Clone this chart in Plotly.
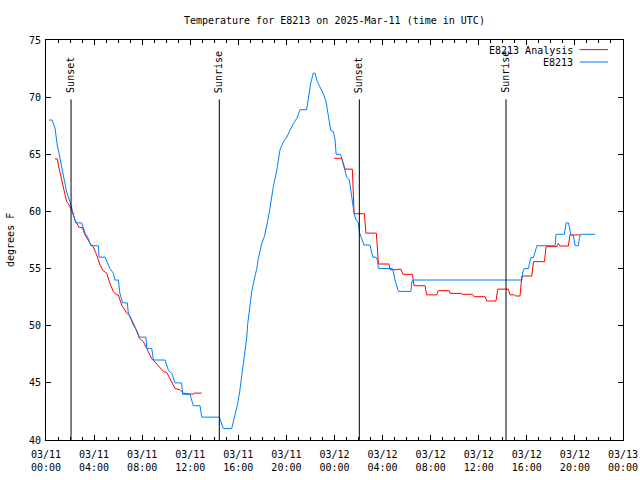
import plotly.graph_objects as go

# ---------------- data ----------------
obs_time = [
    "2025-03-11 00:15", "2025-03-11 00:30", "2025-03-11 00:45", "2025-03-11 00:56", "2025-03-11 01:05",
    "2025-03-11 01:15", "2025-03-11 01:26", "2025-03-11 01:43", "2025-03-11 02:00", "2025-03-11 02:11",
    "2025-03-11 02:25", "2025-03-11 02:28", "2025-03-11 02:58", "2025-03-11 03:06", "2025-03-11 03:15",
    "2025-03-11 03:31", "2025-03-11 03:43", "2025-03-11 04:21", "2025-03-11 04:25", "2025-03-11 04:55",
    "2025-03-11 05:03", "2025-03-11 05:19", "2025-03-11 05:36", "2025-03-11 05:44", "2025-03-11 06:01",
    "2025-03-11 06:09", "2025-03-11 06:23", "2025-03-11 06:46", "2025-03-11 06:51", "2025-03-11 07:16",
    "2025-03-11 07:33", "2025-03-11 07:46", "2025-03-11 08:19", "2025-03-11 08:23", "2025-03-11 08:48",
    "2025-03-11 08:56", "2025-03-11 09:54", "2025-03-11 10:11", "2025-03-11 10:28", "2025-03-11 10:44",
    "2025-03-11 11:17", "2025-03-11 11:22", "2025-03-11 11:59", "2025-03-11 12:15", "2025-03-11 12:49",
    "2025-03-11 12:57", "2025-03-11 14:25", "2025-03-11 14:45", "2025-03-11 15:27", "2025-03-11 15:35",
    "2025-03-11 15:47", "2025-03-11 15:57", "2025-03-11 16:08", "2025-03-11 16:17", "2025-03-11 16:25",
    "2025-03-11 16:33", "2025-03-11 16:42", "2025-03-11 16:47", "2025-03-11 16:53", "2025-03-11 16:58",
    "2025-03-11 17:07", "2025-03-11 17:15", "2025-03-11 17:23", "2025-03-11 17:32", "2025-03-11 17:40",
    "2025-03-11 17:48", "2025-03-11 17:57", "2025-03-11 18:10", "2025-03-11 18:18", "2025-03-11 18:28",
    "2025-03-11 18:38", "2025-03-11 18:55", "2025-03-11 19:12", "2025-03-11 19:28", "2025-03-11 19:45",
    "2025-03-11 20:02", "2025-03-11 20:18", "2025-03-11 20:35", "2025-03-11 20:52", "2025-03-11 21:08",
    "2025-03-11 21:41", "2025-03-11 21:49", "2025-03-11 22:01", "2025-03-11 22:14", "2025-03-11 22:23",
    "2025-03-11 22:34", "2025-03-11 22:48", "2025-03-11 23:04", "2025-03-11 23:18", "2025-03-11 23:29",
    "2025-03-11 23:41", "2025-03-11 23:54", "2025-03-12 00:03", "2025-03-12 00:08", "2025-03-12 00:31",
    "2025-03-12 00:36", "2025-03-12 00:44", "2025-03-12 00:53", "2025-03-12 01:01", "2025-03-12 01:14",
    "2025-03-12 01:21", "2025-03-12 01:29", "2025-03-12 01:38", "2025-03-12 01:48", "2025-03-12 01:59",
    "2025-03-12 02:04", "2025-03-12 02:11", "2025-03-12 02:27", "2025-03-12 02:57", "2025-03-12 03:06",
    "2025-03-12 03:11", "2025-03-12 03:27", "2025-03-12 03:34", "2025-03-12 03:39", "2025-03-12 04:49",
    "2025-03-12 04:54", "2025-03-12 05:02", "2025-03-12 05:19", "2025-03-12 06:21", "2025-03-12 06:26",
    "2025-03-12 06:31", "2025-03-12 15:35", "2025-03-12 15:40", "2025-03-12 15:46", "2025-03-12 16:08",
    "2025-03-12 16:13", "2025-03-12 16:20", "2025-03-12 16:33", "2025-03-12 16:41", "2025-03-12 16:50",
    "2025-03-12 18:21", "2025-03-12 18:26", "2025-03-12 19:07", "2025-03-12 19:11", "2025-03-12 19:16",
    "2025-03-12 19:27", "2025-03-12 19:32", "2025-03-12 19:39", "2025-03-12 19:52", "2025-03-12 20:01",
    "2025-03-12 20:17", "2025-03-12 20:22", "2025-03-12 20:29", "2025-03-12 21:41",
]
obs_temp = [
    68.0, 68.0, 67.3, 65.8, 65.1,
    64.2, 63.0, 61.7, 60.85, 60.1,
    59.4, 59.0, 59.0, 58.5, 58.1,
    57.65, 57.0, 57.0, 56.0, 56.0,
    55.6, 55.0, 54.6, 54.0, 54.0,
    52.8, 52.0, 52.0, 51.1, 50.06,
    49.6, 49.0, 49.0, 48.0, 48.0,
    47.0, 47.0, 46.1, 45.8, 45.0,
    45.0, 44.0, 44.0, 43.0, 43.0,
    42.0, 42.0, 41.0, 41.0, 41.6,
    42.3, 43.2, 44.4, 45.5, 46.6,
    47.9, 49.0, 50.2, 51.1, 51.8,
    53.0, 53.7, 54.3, 55.0, 55.9,
    56.6, 57.2, 57.8, 58.4, 59.3,
    60.3, 62.2, 63.6, 65.4, 66.1,
    66.5, 67.1, 67.7, 68.15, 68.9,
    68.9, 70.0, 71.2, 72.1, 72.1,
    71.35, 70.9, 70.3, 69.6, 68.4,
    67.1, 67.0, 66.25, 65.0, 65.0,
    64.65, 64.06, 63.6, 63.0, 62.75,
    61.9, 60.85, 59.8, 59.25, 59.0,
    58.2, 57.9, 57.06, 57.06, 56.5,
    56.0, 56.0, 55.75, 55.0, 55.0,
    54.7, 54.0, 53.0, 53.0, 53.85,
    54.0, 54.0, 54.7, 55.0, 55.0,
    55.46, 55.95, 55.95, 56.5, 57.0,
    57.0, 58.0, 58.0, 58.4, 59.0,
    59.0, 58.7, 57.94, 57.9, 57.0,
    57.0, 57.65, 58.0, 58.0,
]

ana_time = [
    "2025-03-11 00:45", "2025-03-11 00:56", "2025-03-11 01:05", "2025-03-11 01:18", "2025-03-11 01:30",
    "2025-03-11 01:43", "2025-03-11 01:51", "2025-03-11 02:08", "2025-03-11 02:25", "2025-03-11 02:41",
    "2025-03-11 02:45", "2025-03-11 03:01", "2025-03-11 03:15", "2025-03-11 03:40", "2025-03-11 03:56",
    "2025-03-11 04:13", "2025-03-11 04:30", "2025-03-11 04:46", "2025-03-11 05:03", "2025-03-11 05:19",
    "2025-03-11 05:36", "2025-03-11 05:53", "2025-03-11 06:01", "2025-03-11 06:18", "2025-03-11 06:43",
    "2025-03-11 06:59", "2025-03-11 07:24", "2025-03-11 07:46", "2025-03-11 08:06", "2025-03-11 08:26",
    "2025-03-11 08:48", "2025-03-11 09:13", "2025-03-11 09:46", "2025-03-11 10:03", "2025-03-11 10:28",
    "2025-03-11 10:44", "2025-03-11 11:09", "2025-03-11 11:25", "2025-03-11 12:15", "2025-03-11 12:19",
    "2025-03-11 12:57", "2025-03-11 18:00",
    "2025-03-11 23:58", "2025-03-12 00:36", "2025-03-12 00:44", "2025-03-12 00:53", "2025-03-12 01:29",
    "2025-03-12 01:38", "2025-03-12 02:29", "2025-03-12 02:32", "2025-03-12 02:37", "2025-03-12 03:29",
    "2025-03-12 03:39", "2025-03-12 04:32", "2025-03-12 04:37", "2025-03-12 05:11", "2025-03-12 05:31",
    "2025-03-12 05:41", "2025-03-12 06:29", "2025-03-12 06:37", "2025-03-12 07:32", "2025-03-12 07:40",
    "2025-03-12 08:30", "2025-03-12 08:38", "2025-03-12 09:32", "2025-03-12 09:37", "2025-03-12 10:32",
    "2025-03-12 10:35", "2025-03-12 11:30", "2025-03-12 11:37", "2025-03-12 12:32", "2025-03-12 12:40",
    "2025-03-12 13:26", "2025-03-12 13:35", "2025-03-12 14:28", "2025-03-12 14:36", "2025-03-12 14:58",
    "2025-03-12 15:05", "2025-03-12 15:26", "2025-03-12 15:35", "2025-03-12 16:25", "2025-03-12 16:33",
    "2025-03-12 17:28", "2025-03-12 17:36", "2025-03-12 18:29", "2025-03-12 18:37", "2025-03-12 18:46",
    "2025-03-12 19:27", "2025-03-12 19:36", "2025-03-12 19:44", "2025-03-12 20:26",
]
ana_temp = [
    64.6, 64.6, 63.8, 62.75, 61.9,
    60.85, 60.7, 60.1, 59.25, 58.8,
    58.6, 58.6, 57.94, 57.2, 56.9,
    56.2, 55.3, 54.8, 54.6, 53.7,
    52.98, 52.7, 52.7, 51.8, 51.1,
    50.85, 49.9, 48.9, 48.6, 47.9,
    47.1, 46.65, 46.0, 45.9, 45.1,
    44.5, 44.4, 44.1, 44.0, 44.1,
    44.1, None,
    64.65, 64.65, 64.2, 63.7, 63.7,
    59.8, 59.8, 59.1, 58.1, 58.1,
    55.4, 55.4, 54.9, 54.9, 54.96,
    54.5, 54.5, 53.5, 53.5, 52.7,
    52.7, 53.07, 53.07, 52.83, 52.83,
    52.75, 52.75, 52.54, 52.54, 52.16,
    52.16, 53.2, 53.2, 52.7, 52.7,
    52.6, 52.6, 54.35, 54.35, 55.6,
    55.6, 56.92, 56.92, 57.2, 56.97,
    56.97, 58.0, 57.94, 57.94,
]

sun_time = ["2025-03-11 02:05", "2025-03-11 14:25", "2025-03-12 02:04", "2025-03-12 14:16"]
sun_label = ["Sunset", "Sunrise", "Sunset", "Sunrise"]

tick_vals = ["2025-03-11 00:00", "2025-03-11 04:00", "2025-03-11 08:00", "2025-03-11 12:00",
             "2025-03-11 16:00", "2025-03-11 20:00", "2025-03-12 00:00", "2025-03-12 04:00",
             "2025-03-12 08:00", "2025-03-12 12:00", "2025-03-12 16:00", "2025-03-12 20:00",
             "2025-03-13 00:00"]
tick_text = ["03/11<br>00:00", "03/11<br>04:00", "03/11<br>08:00", "03/11<br>12:00",
             "03/11<br>16:00", "03/11<br>20:00", "03/12<br>00:00", "03/12<br>04:00",
             "03/12<br>08:00", "03/12<br>12:00", "03/12<br>16:00", "03/12<br>20:00",
             "03/13<br>00:00"]

series_names = ["E8213 Analysis", "E8213"]
series_colors = ["#ff0000", "#0080ff"]

# ---------------- figure ----------------
FONT = "DejaVu Sans Mono"
fig = go.Figure()
fig.add_trace(go.Scatter(x=ana_time, y=ana_temp, mode="lines", name=series_names[0],
                         line=dict(color=series_colors[0], width=1), connectgaps=False))
fig.add_trace(go.Scatter(x=obs_time, y=obs_temp, mode="lines", name=series_names[1],
                         line=dict(color=series_colors[1], width=1)))

line_top = 69.8
for t, lab in zip(sun_time, sun_label):
    fig.add_shape(type="line", xref="x", yref="y", x0=t, x1=t, y0=40, y1=line_top,
                  line=dict(color="black", width=1))
    fig.add_annotation(x=t, y=70.2, xref="x", yref="y", text=lab, showarrow=False,
                       textangle=-90, xanchor="center", yanchor="bottom",
                       font=dict(family=FONT, size=10, color="black"))

# manual legend (gnuplot style: text right-aligned, sample on right)
leg_y = [0.974, 0.943]
for name, col, yy in zip(series_names, series_colors, leg_y):
    fig.add_annotation(x=0.917, y=yy, xref="paper", yref="paper", text=name, showarrow=False,
                       xanchor="right", yanchor="middle",
                       font=dict(family=FONT, size=10, color="black"))
    fig.add_shape(type="line", xref="paper", yref="paper", x0=0.925, x1=0.974, y0=yy + 0.002,
                  y1=yy + 0.002, line=dict(color=col, width=1))

# y-axis title as free text (gnuplot places it near the left edge)
fig.add_annotation(x=-0.0624, y=0.5, xref="paper", yref="paper", text="degrees F",
                   showarrow=False, textangle=-90, xanchor="center", yanchor="middle",
                   font=dict(family=FONT, size=10, color="black"))

fig.update_layout(
    width=640, height=480,
    margin=dict(l=46, r=17, t=40, b=40, autoexpand=False),
    paper_bgcolor="white", plot_bgcolor="white",
    showlegend=False,
    font=dict(family=FONT, size=10, color="black"),
    title=dict(text="Temperature for E8213 on 2025-Mar-11 (time in UTC)", x=0.5225, xanchor="center",
               y=0.957, yanchor="middle", font=dict(family=FONT, size=10, color="black")),
)
fig.update_xaxes(
    type="date", range=["2025-03-11 00:00", "2025-03-13 00:00"],
    tickmode="array", tickvals=tick_vals, ticktext=tick_text,
    ticks="inside", ticklen=5, tickcolor="black", tickwidth=1,
    minor=dict(tickmode="linear", tick0="2025-03-11 00:00", dtick=3600000, ticks="inside",
               ticklen=3, tickcolor="black", tickwidth=1, showgrid=False),
    showline=True, linecolor="black", linewidth=1, mirror="ticks",
    showgrid=False, zeroline=False, automargin=False, ticklabelstandoff=5,
    tickfont=dict(family=FONT, size=10, color="black"),
)
fig.update_yaxes(
    range=[40, 75], tickmode="linear", tick0=40, dtick=5,
    ticks="inside", ticklen=5, tickcolor="black", tickwidth=1,
    showline=True, linecolor="black", linewidth=1, mirror="ticks",
    showgrid=False, zeroline=False, automargin=False, ticklabelstandoff=2,
    tickfont=dict(family=FONT, size=10, color="black"),
)

fig.write_html("out.html", config={"displayModeBar": False},
               post_script="document.body.style.margin='0';")
